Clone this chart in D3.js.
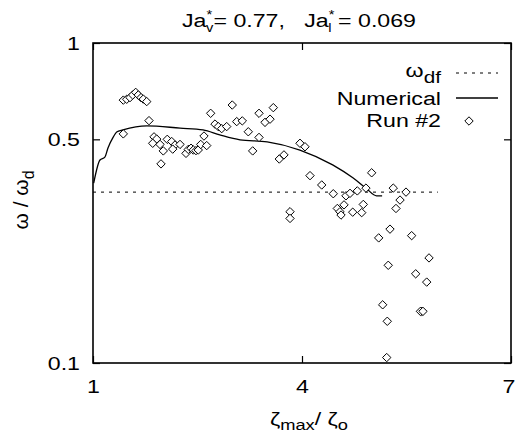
<!DOCTYPE html>
<html>
<head>
<meta charset="utf-8">
<script src="https://cdn.jsdelivr.net/npm/d3@7"></script>
<style>
  body { margin: 0; background: #fff; }
  svg { display: block; }
  text { font-family: "Liberation Sans", Arial, sans-serif; fill: #000; white-space: pre; }
</style>
</head>
<body>
<div id="chart"></div>
<script>
// ---------------------------------------------------------
// DATA
// ---------------------------------------------------------
const xTicks = [1, 4, 7];
const yTicks = [0.1, 0.5, 1];
const yTickLabels = ["0.1", "0.5", "1"];

// omega_df reference level and where its line stops
const wdf = 0.342;
const wdfExtent = [1, 5.95];

// Numerical curve
const numX = [1.01, 1.10, 1.17, 1.215, 1.29, 1.34, 1.43, 1.775, 2.25, 2.58, 2.82, 3.11, 3.50, 3.97, 4.44, 4.73, 4.93, 5.07, 5.15];
const numY = [0.365, 0.431, 0.440, 0.470, 0.508, 0.527, 0.535, 0.551, 0.542, 0.535, 0.516, 0.498, 0.491, 0.463, 0.416, 0.379, 0.350, 0.333, 0.333];

// Run #2 measurements
const runX = [1.435, 1.484, 1.531, 1.570, 1.613, 1.650, 1.689, 1.722, 1.771, 1.435,
              1.804, 1.876, 1.914, 1.857, 1.962, 2.009, 1.976, 2.066, 2.130, 2.177,
              2.144, 2.249, 2.335, 2.368, 2.407, 2.440, 2.478, 2.511, 2.546, 2.593,
              2.632, 2.689, 2.751, 2.798, 2.847, 2.919, 2.999, 3.063, 3.143, 3.229,
              3.292, 3.383, 3.383, 3.469, 3.541, 3.588, 3.674, 3.741, 3.828, 3.828,
              3.971, 4.043, 4.115, 4.283, 4.449, 4.631, 4.689, 4.794, 4.918, 5.000,
              4.507, 4.545, 4.560, 4.603, 4.728, 4.857, 4.880, 5.310, 5.493, 5.407,
              5.349, 5.263, 5.101, 5.574, 5.823, 5.238, 5.632, 5.790, 5.158, 5.718,
              5.700, 5.736, 5.224, 5.216];
const runY = [0.663, 0.667, 0.675, 0.688, 0.701, 0.688, 0.675, 0.668, 0.656, 0.520,
              0.572, 0.509, 0.501, 0.486, 0.482, 0.460, 0.419, 0.500, 0.492, 0.480,
              0.466, 0.482, 0.452, 0.465, 0.469, 0.463, 0.461, 0.463, 0.482, 0.512,
              0.478, 0.603, 0.558, 0.548, 0.540, 0.548, 0.640, 0.568, 0.571, 0.528,
              0.460, 0.507, 0.603, 0.565, 0.578, 0.628, 0.434, 0.447, 0.297, 0.283,
              0.486, 0.474, 0.385, 0.360, 0.338, 0.333, 0.339, 0.345, 0.352, 0.393,
              0.304, 0.297, 0.290, 0.312, 0.296, 0.295, 0.313, 0.352, 0.342, 0.323,
              0.304, 0.262, 0.246, 0.250, 0.213, 0.202, 0.190, 0.179, 0.152, 0.145,
              0.145, 0.145, 0.135, 0.104];

// ---------------------------------------------------------
// SETUP
// ---------------------------------------------------------
const width = 516;
const height = 435;
const margin = { top: 43, right: 5, bottom: 72, left: 93 };
const stretch = 1.22;   // the scanned lettering is wider than it is tall

const svg = d3.select("#chart").append("svg")
    .attr("width", width)
    .attr("height", height);

const x = d3.scaleLinear()
    .domain([1, 7])
    .range([margin.left, width - margin.right]);

const y = d3.scaleLog()
    .domain([0.1, 1])
    .range([height - margin.bottom, margin.top]);

// ---------------------------------------------------------
// AXES
// ---------------------------------------------------------
function styleAxis(g) {
    g.select(".domain").remove();
    g.selectAll(".tick line").attr("stroke", "#000").attr("stroke-width", 1.2);
}

svg.append("g")
    .attr("transform", `translate(0,${y(0.1)})`)
    .call(d3.axisBottom(x).tickValues(xTicks).tickSize(-7).tickPadding(17).tickFormat(d3.format("d")))
    .call(styleAxis)
    .call(g => g.selectAll(".tick text")
        .attr("font-size", 19)
        .attr("font-family", null)
        .attr("x", d => d === 7 ? -2 : 0)
        .attr("transform", `scale(${stretch},1)`));

svg.append("g")
    .attr("transform", `translate(0,${y(1)})`)
    .call(d3.axisTop(x).tickValues(xTicks).tickSize(-7).tickFormat(""))
    .call(styleAxis);

svg.append("g")
    .attr("transform", `translate(${x(1)},0)`)
    .call(d3.axisLeft(y).tickValues(yTicks).tickSize(-7).tickFormat((d, i) => yTickLabels[i]))
    .call(styleAxis)
    .call(g => g.selectAll(".tick text")
        .attr("font-size", 19)
        .attr("font-family", null)
        .attr("x", -13 / stretch)
        .attr("transform", `scale(${stretch},1)`));

svg.append("g")
    .attr("transform", `translate(${x(7)},0)`)
    .call(d3.axisRight(y).tickValues(yTicks).tickSize(-7).tickFormat(""))
    .call(styleAxis);

// frame
svg.append("rect")
    .attr("x", x(1))
    .attr("y", y(1))
    .attr("width", x(7) - x(1))
    .attr("height", y(0.1) - y(1))
    .attr("fill", "none")
    .attr("stroke", "#000")
    .attr("stroke-width", 1.6);

// ---------------------------------------------------------
// MARKS
// ---------------------------------------------------------
svg.append("line")
    .attr("x1", x(wdfExtent[0]))
    .attr("x2", x(wdfExtent[1]))
    .attr("y1", y(wdf))
    .attr("y2", y(wdf))
    .attr("stroke", "#000")
    .attr("stroke-width", 1)
    .attr("stroke-dasharray", "3,5");

const numData = numX.map((v, i) => [v, numY[i]]);
svg.append("path")
    .datum(numData)
    .attr("fill", "none")
    .attr("stroke", "#000")
    .attr("stroke-width", 1.3)
    .attr("d", d3.line().x(d => x(d[0])).y(d => y(d[1])).curve(d3.curveMonotoneX));

const diamond = "M0,-4.2L4.2,0L0,4.2L-4.2,0Z";
const runData = runX.map((v, i) => [v, runY[i]]);
svg.append("g").selectAll("path")
    .data(runData)
    .join("path")
    .attr("transform", d => `translate(${x(d[0])},${y(d[1])})`)
    .attr("d", diamond)
    .attr("fill", "#fff")
    .attr("stroke", "#000")
    .attr("stroke-width", 1);

// ---------------------------------------------------------
// LEGEND
// ---------------------------------------------------------
const legendRight = 441;
const legend = svg.append("g");

const l1 = legend.append("text")
    .attr("transform", `translate(${legendRight},77) scale(${stretch},1)`)
    .attr("text-anchor", "end")
    .attr("font-size", 19);
l1.append("tspan").text("ω");
l1.append("tspan").attr("font-size", 17).attr("dy", 6).text("df");

legend.append("line")
    .attr("x1", 456).attr("x2", 498).attr("y1", 73).attr("y2", 73)
    .attr("stroke", "#000").attr("stroke-dasharray", "3,5");

legend.append("text")
    .attr("transform", `translate(${legendRight},105) scale(${stretch},1)`)
    .attr("text-anchor", "end")
    .attr("font-size", 19)
    .text("Numerical");

legend.append("line")
    .attr("x1", 456).attr("x2", 498).attr("y1", 98).attr("y2", 98)
    .attr("stroke", "#000").attr("stroke-width", 1.3);

legend.append("text")
    .attr("transform", `translate(${legendRight},127) scale(${stretch},1)`)
    .attr("text-anchor", "end")
    .attr("font-size", 19)
    .text("Run #2");

legend.append("path")
    .attr("transform", "translate(469,121)")
    .attr("d", diamond)
    .attr("fill", "#fff")
    .attr("stroke", "#000");

// ---------------------------------------------------------
// TITLES
// ---------------------------------------------------------
const title = svg.append("text")
    .attr("transform", `translate(182,27) scale(${stretch},1)`)
    .attr("font-size", 19);
title.append("tspan").text("Ja");
title.append("tspan").attr("font-size", 12).attr("dy", -8).text("*");
title.append("tspan").attr("font-size", 12).attr("dx", -5).attr("dy", 13).text("v");
title.append("tspan").attr("dy", -5).text("= 0.77,   Ja");
title.append("tspan").attr("font-size", 12).attr("dy", -8).text("*");
title.append("tspan").attr("font-size", 12).attr("dx", -5).attr("dy", 13).text("l");
title.append("tspan").attr("dy", -5).text(" = 0.069");

const xLabel = svg.append("text")
    .attr("transform", `translate(309,425) scale(${stretch},1)`)
    .attr("text-anchor", "middle")
    .attr("font-size", 19);
xLabel.append("tspan").text("ζ");
xLabel.append("tspan").attr("font-size", 15).attr("dy", 5).text("max");
xLabel.append("tspan").attr("dy", -5).text("/ ζ");
xLabel.append("tspan").attr("font-size", 15).attr("dy", 5).text("o");

const yLabel = svg.append("text")
    .attr("transform", "translate(28,200) rotate(-90)")
    .attr("text-anchor", "middle")
    .attr("font-size", 21);
yLabel.append("tspan").text("ω / ω");
yLabel.append("tspan").attr("font-size", 16).attr("dy", 6).text("d");
</script>
</body>
</html>
